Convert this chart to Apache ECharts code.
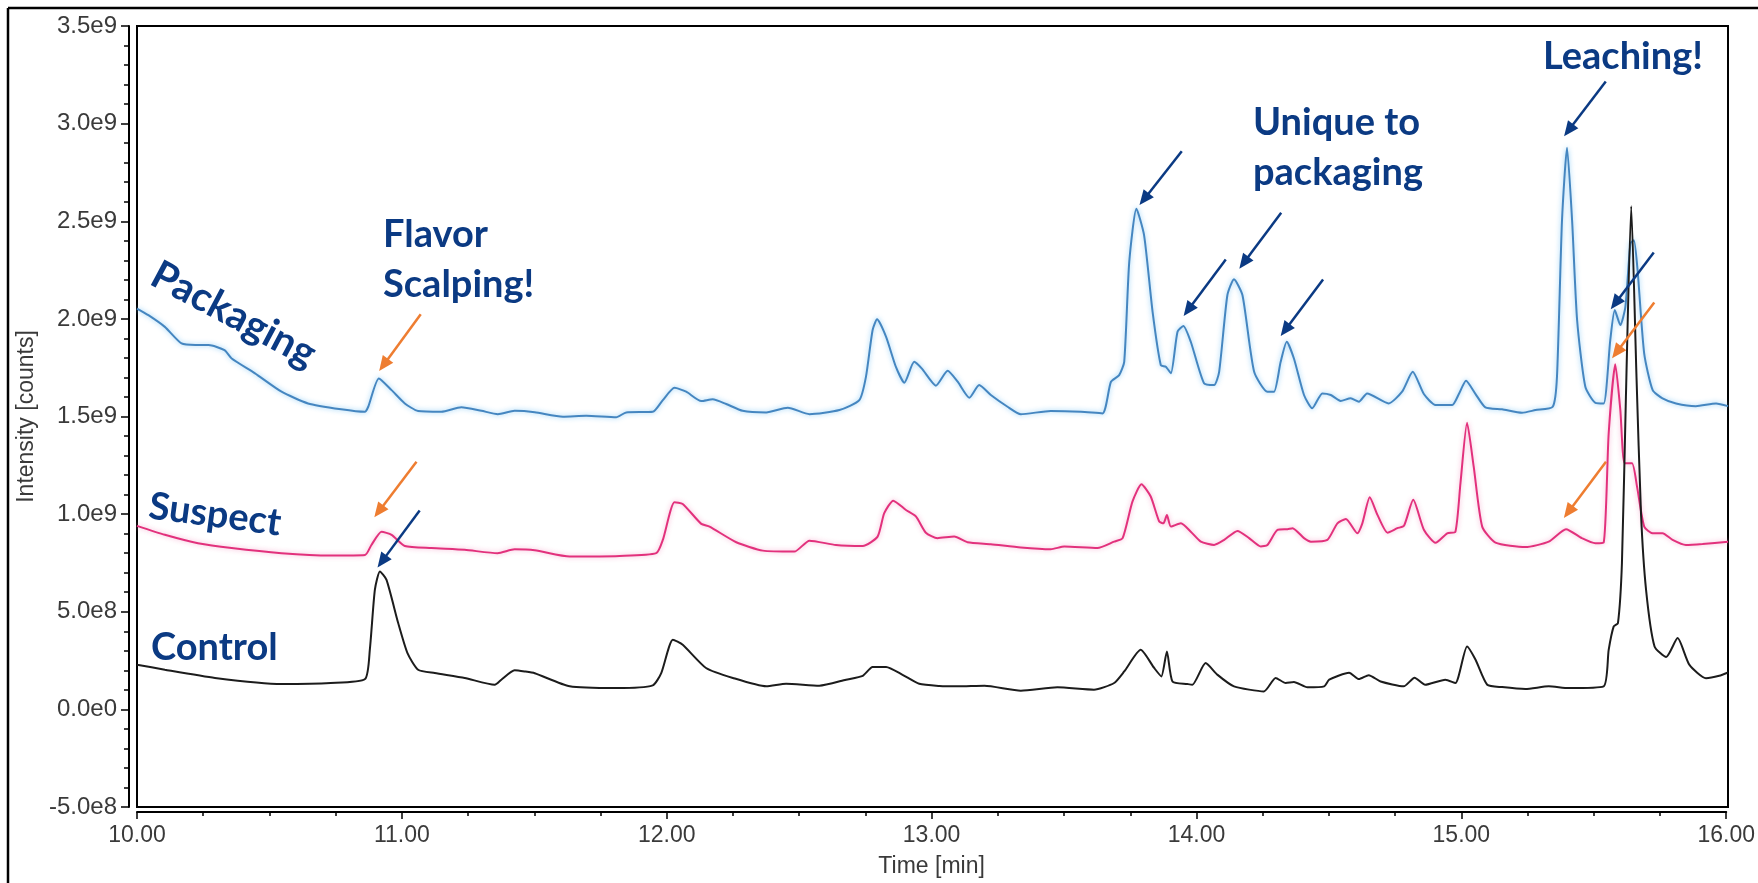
<!DOCTYPE html>
<html><head><meta charset="utf-8">
<script src="https://cdn.jsdelivr.net/npm/echarts/dist/echarts.min.js"></script>
<style>html,body{margin:0;padding:0;background:#fff}#c{width:1758px;height:883px}</style>
</head><body><div id="c"></div>
<script>
// Time [min], Intensity [1e9 counts]
const packagingData = [
[10.000,2.053],[10.043,2.019],[10.105,1.959],[10.168,1.874],[10.22,1.866],[10.27,1.866],[10.33,1.840],[10.357,1.797],
[10.445,1.721],[10.545,1.627],[10.645,1.567],[10.77,1.537],[10.859,1.524],[10.872,1.550],[10.912,1.695],[10.96,1.635],
[11.01,1.567],[11.06,1.528],[11.148,1.524],[11.223,1.547],[11.299,1.529],[11.361,1.512],[11.424,1.529],[11.5,1.522],
[11.606,1.499],[11.694,1.504],[11.807,1.496],[11.845,1.521],[11.945,1.524],[11.983,1.584],[12.027,1.647],[12.071,1.627],
[12.128,1.579],[12.171,1.588],[12.222,1.564],[12.284,1.529],[12.373,1.521],[12.454,1.545],[12.536,1.512],[12.649,1.533],
[12.724,1.584],[12.749,1.703],[12.774,1.942],[12.791,1.998],[12.825,1.908],[12.862,1.754],[12.894,1.673],[12.931,1.780],
[12.96,1.745],[13.013,1.658],[13.057,1.734],[13.095,1.678],[13.139,1.596],[13.176,1.661],[13.22,1.610],[13.283,1.550],
[13.333,1.512],[13.446,1.528],[13.56,1.524],[13.641,1.516],[13.673,1.678],[13.704,1.712],[13.723,1.780],[13.742,2.292],
[13.769,2.564],[13.798,2.428],[13.83,2.036],[13.861,1.763],[13.88,1.755],[13.899,1.721],[13.924,1.934],[13.946,1.964],
[13.974,1.883],[14.024,1.670],[14.062,1.661],[14.081,1.729],[14.112,2.121],[14.137,2.203],[14.169,2.121],[14.213,1.729],
[14.263,1.627],[14.288,1.627],[14.313,1.780],[14.336,1.883],[14.363,1.797],[14.401,1.610],[14.432,1.542],[14.47,1.618],
[14.502,1.610],[14.539,1.580],[14.577,1.593],[14.608,1.576],[14.639,1.618],[14.72,1.567],[14.771,1.627],[14.811,1.729],
[14.853,1.615],[14.897,1.559],[14.96,1.559],[14.985,1.615],[15.012,1.683],[15.048,1.615],[15.085,1.547],[15.148,1.537],
[15.223,1.519],[15.274,1.533],[15.339,1.550],[15.355,1.703],[15.374,2.505],[15.393,2.877],[15.412,2.505],[15.431,1.993],
[15.462,1.652],[15.5,1.570],[15.531,1.567],[15.556,1.891],[15.573,2.045],[15.594,1.968],[15.613,2.061],[15.632,2.386],
[15.645,2.403],[15.659,2.249],[15.684,1.822],[15.716,1.635],[15.753,1.593],[15.804,1.567],[15.879,1.553],[15.955,1.567],
[16.0,1.553]
];
const suspectData = [
[10.000,0.940],[10.105,0.894],[10.23,0.851],[10.357,0.826],[10.545,0.800],[10.73,0.788],[10.86,0.791],[10.884,0.842],
[10.922,0.910],[10.96,0.894],[11.01,0.837],[11.11,0.826],[11.236,0.817],[11.36,0.800],[11.424,0.820],[11.5,0.815],
[11.632,0.783],[11.82,0.786],[11.958,0.800],[11.983,0.868],[12.027,1.061],[12.058,1.052],[12.128,0.950],[12.159,0.936],
[12.26,0.856],[12.36,0.813],[12.479,0.808],[12.536,0.864],[12.636,0.842],[12.737,0.837],[12.793,0.885],[12.818,1.005],
[12.852,1.069],[12.9,1.021],[12.938,0.987],[12.975,0.905],[13.019,0.877],[13.082,0.885],[13.132,0.856],[13.22,0.846],
[13.333,0.829],[13.446,0.820],[13.497,0.834],[13.622,0.826],[13.685,0.859],[13.717,0.877],[13.754,1.064],[13.788,1.153],
[13.823,1.090],[13.855,0.962],[13.871,0.953],[13.884,0.996],[13.899,0.936],[13.937,0.953],[13.974,0.910],[14.012,0.859],
[14.062,0.842],[14.1,0.868],[14.15,0.914],[14.194,0.877],[14.238,0.834],[14.263,0.842],[14.301,0.919],[14.339,0.923],
[14.358,0.928],[14.401,0.877],[14.427,0.859],[14.489,0.868],[14.527,0.953],[14.559,0.975],[14.602,0.902],[14.621,0.953],
[14.649,1.086],[14.678,0.996],[14.716,0.905],[14.753,0.928],[14.778,0.940],[14.813,1.073],[14.853,0.920],[14.897,0.853],
[14.941,0.902],[14.972,0.910],[14.991,1.158],[15.016,1.468],[15.041,1.243],[15.073,0.936],[15.123,0.854],[15.236,0.831],
[15.324,0.859],[15.389,0.923],[15.449,0.877],[15.5,0.851],[15.531,0.854],[15.55,1.413],[15.575,1.768],[15.594,1.533],
[15.61,1.260],[15.638,1.260],[15.657,1.141],[15.684,0.936],[15.716,0.902],[15.753,0.902],[15.791,0.868],[15.841,0.842],
[15.904,0.847],[16.0,0.859]
];
const controlData = [
[10.000,0.229],[10.105,0.203],[10.294,0.161],[10.545,0.130],[10.73,0.135],[10.86,0.155],[10.878,0.305],[10.897,0.612],
[10.916,0.706],[10.941,0.663],[10.985,0.442],[11.02,0.288],[11.06,0.203],[11.123,0.186],[11.236,0.161],[11.349,0.126],
[11.374,0.152],[11.424,0.200],[11.462,0.194],[11.5,0.185],[11.632,0.118],[11.807,0.109],[11.945,0.123],[11.977,0.186],
[12.021,0.357],[12.058,0.331],[12.146,0.212],[12.247,0.161],[12.373,0.118],[12.448,0.131],[12.573,0.121],[12.674,0.152],
[12.737,0.172],[12.774,0.217],[12.825,0.217],[12.887,0.177],[12.95,0.131],[13.026,0.120],[13.095,0.118],[13.196,0.121],
[13.333,0.096],[13.471,0.113],[13.609,0.101],[13.685,0.135],[13.723,0.194],[13.785,0.305],[13.836,0.212],[13.863,0.169],
[13.884,0.297],[13.905,0.143],[13.961,0.130],[13.98,0.126],[14.03,0.237],[14.074,0.178],[14.137,0.118],[14.25,0.092],
[14.294,0.161],[14.332,0.135],[14.363,0.140],[14.414,0.113],[14.477,0.118],[14.496,0.152],[14.571,0.188],[14.608,0.155],
[14.645,0.175],[14.69,0.143],[14.777,0.118],[14.818,0.162],[14.858,0.126],[14.934,0.152],[14.972,0.135],[15.016,0.322],
[15.048,0.254],[15.092,0.126],[15.148,0.114],[15.236,0.104],[15.324,0.118],[15.399,0.109],[15.531,0.118],[15.55,0.305],
[15.569,0.425],[15.585,0.442],[15.6,0.75],[15.615,1.6],[15.635,2.577],[15.655,1.7],[15.672,1.0],[15.691,0.612],
[15.723,0.322],[15.767,0.268],[15.81,0.365],[15.854,0.229],[15.917,0.160],[15.967,0.172],[16.0,0.189]
];
// arrows: [tailTime, tailValue, headTime, headValue]
const blueArrows = [
[11.066,1.018,10.924,0.758],
[13.940,2.859,13.798,2.613],
[14.106,2.304,13.964,2.046],
[14.315,2.544,14.174,2.288],
[14.473,2.2015,14.330,1.943],
[15.539,3.216,15.399,2.966],
[15.720,2.340,15.575,2.080]
];
const orangeArrows = [
[11.070,2.024,10.930,1.764],
[11.054,1.2685,10.912,1.014],
[15.722,2.084,15.580,1.829],
[15.540,1.2685,15.398,1.011]
];
const xTicks = {min:10, max:16, interval:1};
const yTicks = {min:-0.5, max:3.5, interval:0.5};

function sci(v){
  const real = Math.round(v*1e9);
  if (real === 0) return '0.0e0';
  const e = Math.floor(Math.log10(Math.abs(real)) + 1e-9);
  const m = real/Math.pow(10,e);
  return m.toFixed(1)+'e'+e;
}
const NAVY = '#0b3a83', ORANGE = '#ee7d31';
const axisFont = {fontFamily:'Liberation Sans, Arial, sans-serif', fontSize:23, color:'#3a3a3a'};
const yFont = Object.assign({}, axisFont, {fontSize:24});

function arrowLines(list, color){
  return list.map(a => [
    {coord:[a[0],a[1]], lineStyle:{color, width:2.5, type:'solid'}, itemStyle:{color}},
    {coord:[a[2],a[3]], lineStyle:{color, width:2.5, type:'solid'}, itemStyle:{color}}
  ]);
}
function label(text, x, y, rotDeg, size){
  return {type:'text', x, y, rotation: -(rotDeg||0)*Math.PI/180, z:50,
    style:{text, font:'bold '+(size||38)+'px Lato', fill:NAVY, align:'left', textAlign:'left',
      verticalAlign:'middle', textVerticalAlign:'middle'}};
}
const hiddenX = gi => ({type:'value', gridIndex:gi, min:xTicks.min, max:xTicks.max, show:false});
const hiddenY = gi => ({type:'value', gridIndex:gi, min:yTicks.min, max:yTicks.max, show:false});

const chart = echarts.init(document.getElementById('c'), null, {renderer:'canvas'});
chart.setOption({
  animation:false,
  backgroundColor:'#fff',
  grid:[
    {left:137, top:26, right:30, bottom:76, show:true, borderColor:'#000', borderWidth:2, backgroundColor:'transparent'},
    {left:137, top:26, right:30, bottom:68, show:false},
    {left:129, top:26, right:30, bottom:76, show:false}
  ],
  xAxis:[
    hiddenX(0),
    {type:'value', gridIndex:1, min:xTicks.min, max:xTicks.max, interval:xTicks.interval,
      name:'Time [min]', nameLocation:'middle', nameGap:43, nameTextStyle:axisFont,
      axisLine:{show:true, onZero:false, lineStyle:{color:'#000', width:2}},
      axisTick:{show:true, length:7, lineStyle:{color:'#000', width:1.5}},
      minorTick:{show:true, splitNumber:4, length:4, lineStyle:{color:'#000', width:1.5}},
      splitLine:{show:false}, minorSplitLine:{show:false},
      axisLabel:Object.assign({margin:12, formatter:v=>v.toFixed(2)}, axisFont)},
    hiddenX(2)
  ],
  yAxis:[
    hiddenY(0),
    hiddenY(1),
    {type:'value', gridIndex:2, min:yTicks.min, max:yTicks.max, interval:yTicks.interval,
      name:'Intensity [counts]', nameLocation:'middle', nameGap:88, nameTextStyle:axisFont,
      axisLine:{show:true, onZero:false, lineStyle:{color:'#000', width:2}},
      axisTick:{show:true, length:8, lineStyle:{color:'#000', width:1.5}},
      minorTick:{show:true, splitNumber:5, length:5, lineStyle:{color:'#000', width:1.5}},
      splitLine:{show:false}, minorSplitLine:{show:false},
      axisLabel:Object.assign({margin:12, formatter:sci}, yFont)}
  ],
  series:[
    {name:'Packaging', type:'line', data:packagingData, showSymbol:false, smooth:0.2, z:2,
      lineStyle:{color:'#4586c0', width:2, shadowColor:'rgba(120,195,245,0.85)', shadowBlur:5}},
    {name:'Suspect', type:'line', data:suspectData, showSymbol:false, smooth:0.2, z:3,
      lineStyle:{color:'#e2317c', width:2, shadowColor:'rgba(245,160,200,0.85)', shadowBlur:5}},
    {name:'Control', type:'line', data:controlData, showSymbol:false, smooth:0.2, z:4,
      lineStyle:{color:'#1c1c1c', width:2}},
    {name:'arrows', type:'line', data:[], z:10,
      markLine:{silent:true, animation:false, symbol:['none','triangle'], symbolSize:[13,15],
        label:{show:false}, lineStyle:{type:'solid', width:2.5},
        data: arrowLines(blueArrows, NAVY).concat(arrowLines(orangeArrows, ORANGE))}}
  ],
  graphic:{elements:[
    {type:'line', shape:{x1:8,y1:8,x2:1758,y2:8}, style:{stroke:'#000', lineWidth:2.5}},
    {type:'line', shape:{x1:8,y1:8,x2:8,y2:883}, style:{stroke:'#000', lineWidth:2.5}},
    label('Flavor', 383, 235),
    label('Scalping!', 383, 285),
    label('Unique to', 1253, 123),
    label('packaging', 1253, 173),
    label('Leaching!', 1543, 57),
    label('Control', 151, 648),
    label('Suspect', 149, 506, 7.5),
    label('Packaging', 154, 272, 28, 40)
  ]}
});
</script></body></html>
